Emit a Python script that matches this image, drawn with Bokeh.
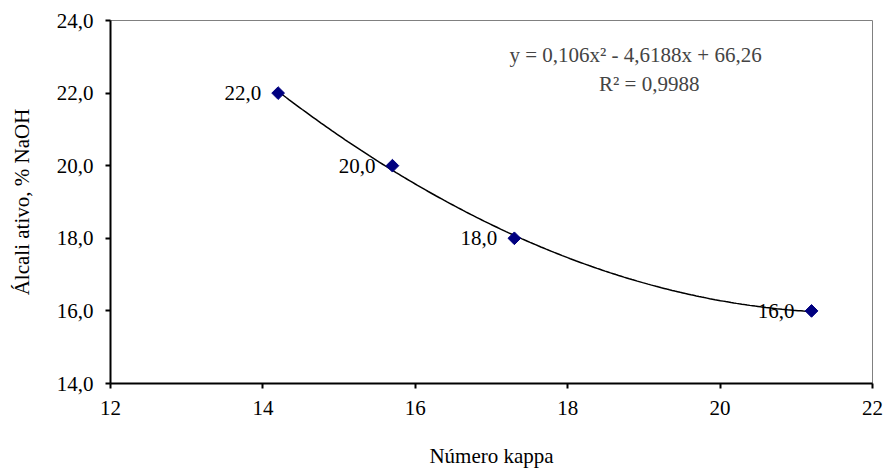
from bokeh.plotting import figure
from bokeh.models import ColumnDataSource, FixedTicker, Label, CustomJSTickFormatter
from bokeh.core.properties import value
from bokeh.embed import file_html
from bokeh.resources import INLINE
import numpy as np

kappa = [14.2, 15.7, 17.3, 21.2]
alcali = [22.0, 20.0, 18.0, 16.0]
point_labels = ["22,0", "20,0", "18,0", "16,0"]
trend_coef = [0.106, -4.6188, 66.26]
x_ticks = [12, 14, 16, 18, 20, 22]
y_ticks = [14, 16, 18, 20, 22, 24]
eq_text = "y = 0,106x\u00b2 - 4,6188x + 66,26"
r2_text = "R\u00b2 = 0,9988"

FONT = "Liberation Serif"
FS = "21px"

p = figure(width=885, height=471, output_backend="svg", toolbar_location=None,
           x_range=(12, 22), y_range=(14, 24),
           min_border_left=110, min_border_right=13, min_border_top=20, min_border_bottom=88)

p.xgrid.visible = False
p.ygrid.visible = False
p.outline_line_color = "#808080"
p.outline_line_width = 1

# trendline
xs = np.linspace(min(kappa), max(kappa), 200)
ys = np.polyval(trend_coef, xs)
p.line(xs, ys, line_color="black", line_width=1.5)

src = ColumnDataSource(dict(x=kappa, y=alcali, lab=point_labels))
p.scatter("x", "y", source=src, marker="square", angle=np.pi / 4, size=9,
          fill_color="#000080", line_color="#000080")
p.text("x", "y", text="lab", source=src, x_offset=-17, text_align="right", text_baseline="middle",
       text_font=value(FONT), text_font_size=FS, text_color="black")

p.add_layout(Label(x=18.89, y=23.04, text=eq_text,
                   text_align="center", text_baseline="middle", text_font=FONT, text_font_size=FS))
p.add_layout(Label(x=19.07, y=22.26, text=r2_text,
                   text_align="center", text_baseline="middle", text_font=FONT, text_font_size=FS))

for ax in (p.xaxis[0], p.yaxis[0]):
    ax.axis_line_color = "black"
    ax.axis_line_width = 2
    ax.major_tick_line_color = "black"
    ax.major_tick_line_width = 2
    ax.major_tick_out = 5
    ax.major_tick_in = 0
    ax.minor_tick_line_color = None
    ax.major_label_text_font = FONT
    ax.major_label_text_font_size = FS
    ax.major_label_text_color = "black"
    ax.axis_label_text_font = FONT
    ax.axis_label_text_font_size = FS
    ax.axis_label_text_font_style = "normal"
    ax.axis_label_text_color = "black"

p.xaxis.ticker = FixedTicker(ticks=x_ticks)
p.yaxis.ticker = FixedTicker(ticks=y_ticks)
p.yaxis.formatter = CustomJSTickFormatter(code="return tick.toFixed(1).replace('.', ',');")
p.xaxis.axis_label = "Número kappa"
p.yaxis.axis_label = "Álcali ativo, % NaOH"
p.xaxis.major_label_standoff = 12
p.xaxis.axis_label_standoff = 26
p.yaxis.major_label_standoff = 12
p.yaxis.axis_label_standoff = 20

open("out.html", "w").write(file_html(p, INLINE))
